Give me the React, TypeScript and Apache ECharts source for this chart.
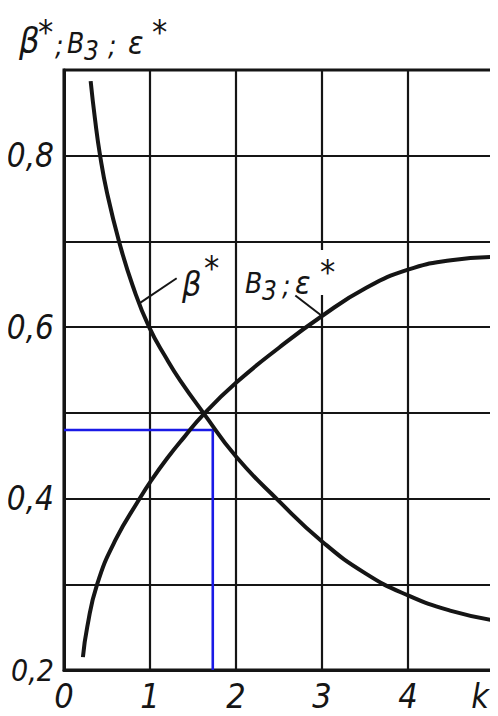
import React, { useEffect, useRef } from "react";
import * as echarts from "echarts";

// β* against k
const kBeta = [0.31, 0.36, 0.42, 0.5, 0.64, 0.8, 0.99, 1.2, 1.35, 1.62, 2.0, 2.5, 3.0, 3.5, 4.0, 4.5, 5.0];
const betaValues = [0.887, 0.843, 0.8, 0.757, 0.7, 0.648, 0.6, 0.562, 0.538, 0.5, 0.449, 0.397, 0.35, 0.313, 0.287, 0.269, 0.258];

// Bз ; ε* against k
const kB3 = [0.22, 0.27, 0.385, 0.6, 0.88, 1.0, 1.2, 1.4, 1.62, 2.0, 2.5, 3.0, 3.5, 4.0, 4.5, 5.0];
const b3Values = [0.215, 0.25, 0.3, 0.352, 0.4, 0.419, 0.447, 0.472, 0.498, 0.535, 0.576, 0.613, 0.645, 0.667, 0.678, 0.682];

// worked example read-off: k = 1.73 gives 0.48
const readK = 1.73;
const readValue = 0.48;

// leader lines from the curve labels to the curves
const betaLeader = [[0.88, 0.628], [1.31, 0.657]];
const b3Leader = [[2.69, 0.637], [3.0, 0.613]];

const yTickLabels: Record<number, string> = { 2: "0,2", 4: "0,4", 6: "0,6", 8: "0,8" };
const xTickLabels = ["0", "1", "2", "3", "4", "k"];

const FAMILY = '"Liberation Sans Narrow", "DejaVu Sans Condensed", "DejaVu Sans", sans-serif';
const INK = "#151515";

function glyph(text: string, x: number, y: number, size: number) {
  return {
    type: "text",
    x,
    y,
    z: 60,
    silent: true,
    style: {
      text,
      fill: INK,
      fontSize: size,
      fontStyle: "italic",
      fontFamily: FAMILY,
      align: "left",
      verticalAlign: "middle",
    },
  };
}

export default function App() {
  const ref = useRef<HTMLDivElement>(null);

  useEffect(() => {
    if (!ref.current) return;
    const chart = echarts.init(ref.current, undefined, { renderer: "svg" });

    chart.setOption({
      animation: false,
      backgroundColor: "#ffffff",
      grid: {
        left: 64,
        right: 4,
        top: 70,
        bottom: 46,
        show: true,
        borderColor: INK,
        borderWidth: 3,
      },
      xAxis: {
        type: "value",
        min: 0,
        max: 5,
        interval: 1,
        axisLine: { show: true, lineStyle: { color: INK, width: 3 } },
        axisTick: { show: false },
        splitLine: { show: true, lineStyle: { color: INK, width: 2.2 } },
        axisLabel: {
          margin: 9,
          color: INK,
          fontSize: 34,
          fontStyle: "italic",
          fontFamily: FAMILY,
          formatter: (v: number) => {
            const i = Math.round(v);
            return i === 5 ? "{k|k}" : xTickLabels[i];
          },
          rich: {
            k: {
              fontSize: 34,
              fontStyle: "italic",
              fontFamily: FAMILY,
              color: INK,
              padding: [0, 28, 0, 0],
            },
          },
        },
      },
      yAxis: {
        type: "value",
        min: 0.2,
        max: 0.9,
        interval: 0.1,
        axisLine: { show: true, lineStyle: { color: INK, width: 3 } },
        axisTick: { show: false },
        splitLine: { show: true, lineStyle: { color: INK, width: 2.2 } },
        axisLabel: {
          margin: 10,
          color: INK,
          fontSize: 33,
          fontStyle: "italic",
          fontFamily: FAMILY,
          formatter: (v: number) => {
            const r = Math.round(v * 10);
            if (r === 2) return "{s|" + yTickLabels[2] + "}";
            return yTickLabels[r] || "";
          },
          rich: {
            s: {
              fontSize: 30,
              fontStyle: "italic",
              fontFamily: FAMILY,
              color: INK,
            },
          },
        },
      },
      series: [
        {
          name: "read-off",
          type: "line",
          data: [[0, readValue], [readK, readValue], [readK, 0.2]],
          symbol: "none",
          lineStyle: { color: "#1a1ae6", width: 2.6 },
          z: 1,
          silent: true,
        },
        {
          name: "β*",
          type: "line",
          data: kBeta.map((k, i) => [k, betaValues[i]]),
          smooth: 0.5,
          symbol: "none",
          lineStyle: { color: INK, width: 4 },
          z: 3,
        },
        {
          name: "Bз; ε*",
          type: "line",
          data: kB3.map((k, i) => [k, b3Values[i]]),
          smooth: 0.5,
          symbol: "none",
          lineStyle: { color: INK, width: 4 },
          z: 3,
        },
        {
          name: "β* leader",
          type: "line",
          data: betaLeader,
          symbol: "none",
          lineStyle: { color: INK, width: 2 },
          z: 3,
          silent: true,
        },
        {
          name: "Bз leader",
          type: "line",
          data: b3Leader,
          symbol: "none",
          lineStyle: { color: INK, width: 2 },
          z: 3,
          silent: true,
        },
      ],
      graphic: [
        // axis title
        glyph("β", 19, 40, 36),
        glyph("*", 38, 32, 34),
        glyph(";", 55, 45, 28),
        glyph("B", 67, 43, 28),
        glyph("3", 84, 51, 26),
        glyph(";", 108, 45, 28),
        glyph("ε", 128, 43, 32),
        glyph("*", 152, 32, 34),
        // curve labels
        glyph("β", 182, 284, 34),
        glyph("*", 204, 268, 34),
        {
          type: "rect",
          z: 55,
          silent: true,
          shape: { x: 317, y: 250, width: 10, height: 45 },
          style: { fill: "#ffffff" },
        },
        glyph("B", 245, 283, 28),
        glyph("3", 262, 291, 26),
        glyph(";", 282, 285, 28),
        glyph("ε", 295, 283, 32),
        glyph("*", 320, 272, 34),
      ],
    });

    return () => chart.dispose();
  }, []);

  return <div ref={ref} style={{ width: 498, height: 716, margin: -8 }} />;
}
